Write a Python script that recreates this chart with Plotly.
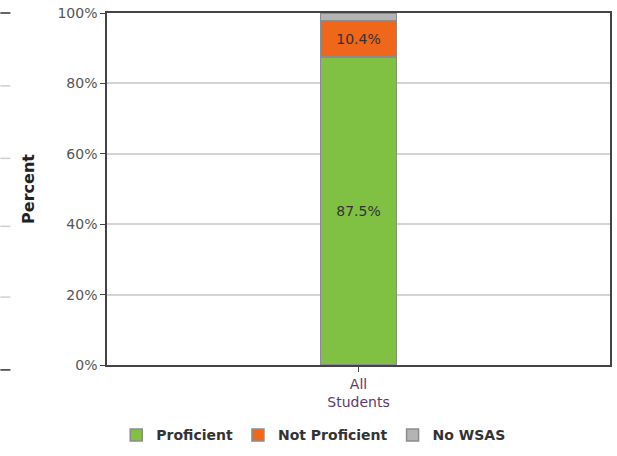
import plotly.graph_objects as go

# data
categories = ["All<br>Students"]
series_names = ["Proficient", "Not Proficient", "No WSAS"]
proficient = [87.5]
not_proficient = [10.4]
no_wsas = [2.1]
y_ticks = [0, 20, 40, 60, 80, 100]
y_tick_labels = ["0%", "20%", "40%", "60%", "80%", "100%"]

colors = {
    "Proficient": "#80c043",
    "Not Proficient": "#f0661a",
    "No WSAS": "#b4b4b4",
}
values = {
    "Proficient": proficient,
    "Not Proficient": not_proficient,
    "No WSAS": no_wsas,
}
show_text = {"Proficient": True, "Not Proficient": True, "No WSAS": False}

fig = go.Figure()
for name in series_names:
    vals = values[name]
    fig.add_trace(go.Bar(
        x=categories,
        y=vals,
        name=name,
        width=0.152,
        marker=dict(color=colors[name], line=dict(color="#8c8c8c", width=1.5)),
        text=[f"{v:.1f}%" for v in vals] if show_text[name] else None,
        textposition="inside",
        insidetextanchor="middle",
        textfont=dict(family="DejaVu Sans", size=14, color="#333333"),
        hoverinfo="skip",
    ))

fig.update_layout(
    barmode="stack",
    width=617,
    height=456,
    margin=dict(l=107, r=5, t=10, b=78),
    paper_bgcolor="white",
    plot_bgcolor="white",
    font=dict(family="DejaVu Sans", size=14, color="#555555"),
    showlegend=True,
    legend=dict(
        orientation="h",
        x=0.41, xanchor="center",
        y=-0.2, yanchor="middle",
        font=dict(family="DejaVu Sans", size=14, color="#333333", weight="bold"),
        itemwidth=30,
        traceorder="normal",
    ),
)

fig.update_xaxes(
    showline=True, linecolor="#444444", linewidth=1.5, mirror=True,
    ticks="outside", ticklen=5, tickcolor="#444444",
    tickfont=dict(family="DejaVu Sans", size=14, color="#5b3a6e"),
    range=[-0.5, 0.5],
)
fig.update_yaxes(
    range=[0, 100],
    tickvals=y_ticks, ticktext=y_tick_labels,
    ticklabeloverflow="allow",
    showline=True, linecolor="#444444", linewidth=1.5, mirror=True,
    ticks="outside", ticklen=5, tickcolor="#444444",
    showgrid=True, gridcolor="#d4d4d4", gridwidth=1.5,
    tickfont=dict(family="DejaVu Sans", size=14, color="#555555"),
    title=dict(text="<b>Percent</b>", font=dict(family="DejaVu Sans", size=16, color="#222222"), standoff=19),
)

# stubs from the neighbouring chart on the left edge
for yp, col in [(1.0, "#333333"), (0.793, "#d0d0d0"), (0.587, "#d0d0d0"),
                (0.394, "#d0d0d0"), (0.193, "#d0d0d0"), (-0.014, "#333333")]:
    fig.add_shape(type="line", xref="paper", yref="paper",
                  x0=-0.212, x1=-0.192, y0=yp, y1=yp,
                  line=dict(color=col, width=1.5))

page_fix = (
    "document.body.style.margin='0';"
    "document.body.style.height='456px';"
    "document.body.style.overflow='hidden';"
    "document.documentElement.style.overflow='hidden';"
)
fig.write_html("out.html", post_script=page_fix, config={"displayModeBar": False})
